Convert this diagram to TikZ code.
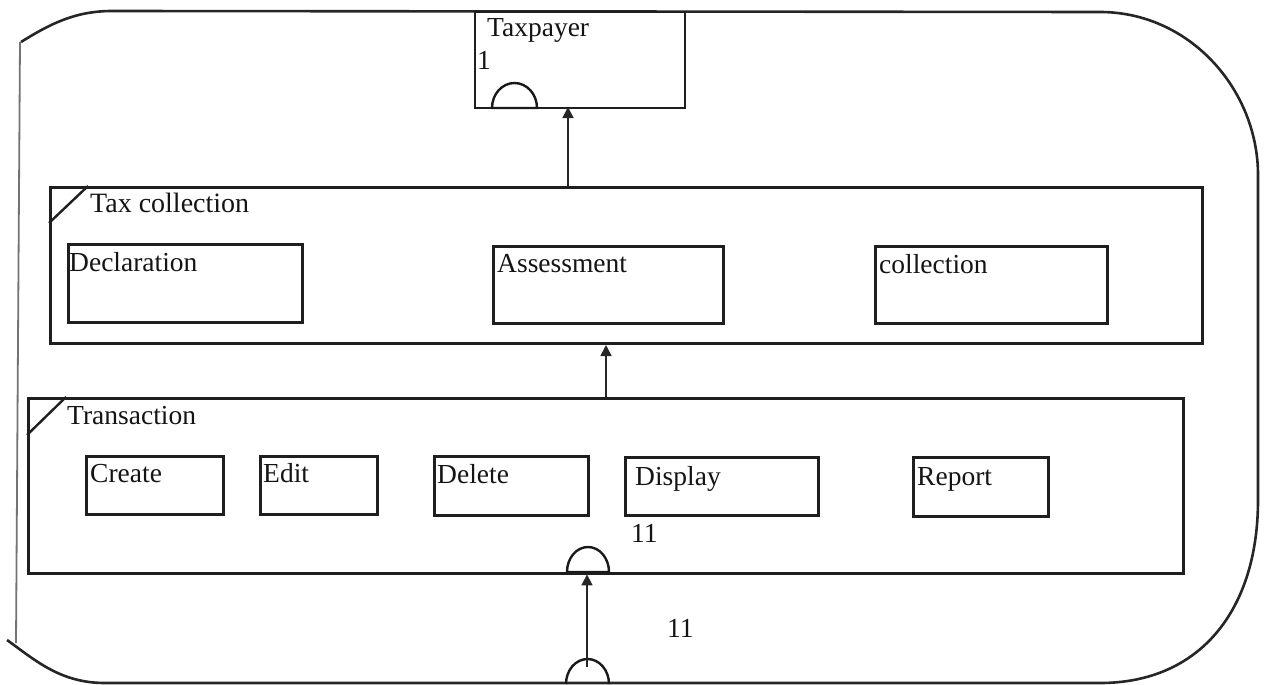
\documentclass[tikz,border=0pt]{standalone}
\usepackage{fontspec}
\setmainfont{Liberation Serif}
\usetikzlibrary{arrows.meta}
\begin{document}
\begin{tikzpicture}[x=1pt,y=-1pt,
  frame/.style={line width=2.6pt, draw=black!85},
  frameside/.style={line width=1.8pt, draw=black!55},
  box/.style 2 args={draw=black!88, rectangle, inner sep=0pt, anchor=north west,
    line width=3pt, minimum width=#1pt, minimum height=#2pt},
  lbl/.style={anchor=base west, inner sep=0pt, text=black!92,
    font=\fontsize{27.5}{31}\selectfont},
  conn/.style={line width=1.7pt, draw=black!85,
    -{Triangle[length=11pt,width=11pt]}},
  port/.style={line width=2.4pt, draw=black!90},
  tab/.style={line width=2.4pt, draw=black!88}]
\useasboundingbox (0,0) rectangle (1267,685);

% outer frame
\draw[frame] (21,42) .. controls (50,24) and (75,11) .. (112,11)
  -- (1100,12) .. controls (1190,12) and (1258,90) .. (1258,175)
  -- (1258,500) .. controls (1258,610) and (1200,683) .. (1100,683)
  -- (105,683) .. controls (60,683) and (35,660) .. (7,640);
\draw[frameside] (20,42) -- (16,643);

% taxpayer box
\node[box={210}{96}, line width=2pt] (taxpayer) at (474,11) {};
\node[lbl] (taxpayerlbl) at (487,37) {Taxpayer};
\node[lbl] (taxpayerone) at (477,70) {1};
\draw[port] (492,108) arc[start angle=180, end angle=0, x radius=22.5pt, y radius=25pt] -- cycle;

% tax collection group
\node[box={1152}{156}] (taxcoll) at (49,186) {};
\draw[tab] (taxcoll.north west) ++(0,37) -- ++(39,-37);
\node[lbl, font=\fontsize{28}{31}\selectfont] (taxcolllbl) at (90,212) {Tax collection};
\node[box={234}{78}] (decl) at (67,243) {};
\node[lbl] (decllbl) at (69,271) {Declaration};
\node[box={230}{77}] (assess) at (492,245) {};
\node[lbl] (assesslbl) at (497,272) {Assessment};
\node[box={232}{77}] (coll) at (874,245) {};
\node[lbl] (colllbl) at (879,273) {collection};

% transaction group
\node[box={1155}{175}, line width=3.4pt] (trans) at (27,397) {};
\draw[tab] (trans.north west) ++(0,38) -- ++(39,-38);
\node[lbl] (translbl) at (67,424) {Transaction};
\node[box={137}{58}] (create) at (85,455) {};
\node[lbl] (createlbl) at (90,482) {Create};
\node[box={117}{58}] (edit) at (259,455) {};
\node[lbl] (editlbl) at (263,482) {Edit};
\node[box={154}{59}] (delete) at (433,455) {};
\node[lbl] (deletelbl) at (437,483) {Delete};
\node[box={193}{58}] (display) at (624,456) {};
\node[lbl] (displaylbl) at (635,485) {Display};
\node[box={135}{59}] (report) at (912,456) {};
\node[lbl] (reportlbl) at (917,485) {Report};
\node[lbl] (transnum) at (631,542) {11};
\draw[port] (567,572) arc[start angle=180, end angle=0, x radius=21pt, y radius=25pt] -- cycle;

% incoming port at the bottom edge
\draw[port] (566,684) arc[start angle=180, end angle=0, x radius=21.5pt, y radius=25pt];
\node[lbl] (innum) at (667,637) {11};

% connectors
\coordinate (up1) at (568,186);
\draw[conn] (up1 |- taxcoll.north) -- ([yshift=2pt]up1 |- taxpayer.south);
\coordinate (up2) at (606,397);
\draw[conn] (up2 |- trans.north) -- (up2 |- taxcoll.south);
\coordinate (inport) at (587,667);
\draw[conn] (inport) -- ([yshift=1pt]inport |- trans.south);
\end{tikzpicture}
\end{document}
